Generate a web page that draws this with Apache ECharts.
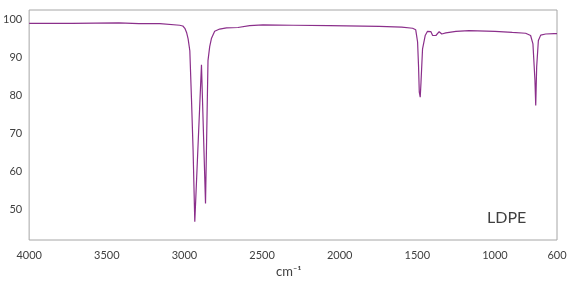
<!DOCTYPE html>
<html>
<head>
<meta charset="utf-8">
<script src="https://cdn.jsdelivr.net/npm/echarts@6/dist/echarts.min.js"></script>
<style>html,body{margin:0;padding:0;background:#fff}#c{width:574px;height:288px}</style>
</head>
<body>
<div id="c"></div>
<script>
const wavenumbers = [4000,3724,3422,3293,3158,3030,3010,2997,2986,2976,2965,2954,2944,2933,2890,2864,2848,2837,2826,2805,2773,2729,2655,2580,2494,2300,2066,1744,1600,1530,1510,1498,1492,1487,1481,1476,1466,1449,1434,1412,1401,1391,1380,1359,1342,1316,1251,1166,1000,888,802,770,755,742,737,731,720,705,673,619,600];
const transmittance = [98.9,98.9,99.0,98.8,98.8,98.4,98.2,97.6,96.5,94.8,91.7,78.6,65.6,46.8,88.0,51.6,89.1,92.8,94.9,96.8,97.4,97.7,97.8,98.3,98.5,98.4,98.3,98.1,97.9,97.6,97.2,94.0,87.8,80.8,79.5,83.4,92.2,95.7,96.8,96.7,95.7,95.2,95.7,96.7,96.1,96.4,96.8,97.0,96.8,96.5,96.3,95.7,93.5,83.9,77.3,87.4,94.4,95.8,96.1,96.2,96.2];
const xTickLabels = [4000,3500,3000,2500,2000,1500,1000,600];
const yTickLabels = [50,60,70,80,90,100];
const sampleName = 'LDPE';
const xTitle = 'cm\u207B\u00B9';

const chart = echarts.init(document.getElementById('c'), null, {renderer:'canvas'});
const font = 'Lato, "Open Sans", sans-serif';
chart.setOption({
  animation:false,
  backgroundColor:'#fff',
  grid:{left:29,right:17,top:10,bottom:48,show:true,borderColor:'#a6a6a6',borderWidth:1,containLabel:false},
  xAxis:{type:'value',inverse:true,min:600,max:4000,
    axisLine:{show:false},axisTick:{show:false},splitLine:{show:false},
    axisLabel:{customValues:xTickLabels,formatter:v=>String(v),color:'#404040',fontSize:11,fontFamily:font,margin:10}},
  yAxis:{type:'value',min:42,max:102.4,
    axisLine:{show:false},axisTick:{show:false},splitLine:{show:false},
    axisLabel:{customValues:yTickLabels,formatter:v=>String(v),color:'#404040',fontSize:11,fontFamily:font,margin:7}},
  graphic:[
    {type:'text',left:487,top:210,style:{text:sampleName,font:'16px '+font,fill:'#404040'}},
    {type:'text',left:276,top:265,style:{text:xTitle,font:'13px '+font,fill:'#404040'}}
  ],
  series:[{type:'line',data:wavenumbers.map((w,i)=>[w,transmittance[i]]),showSymbol:false,
    lineStyle:{color:'#8b2f8b',width:1.2},itemStyle:{color:'#8b2f8b'}}]
});
</script>
</body>
</html>
